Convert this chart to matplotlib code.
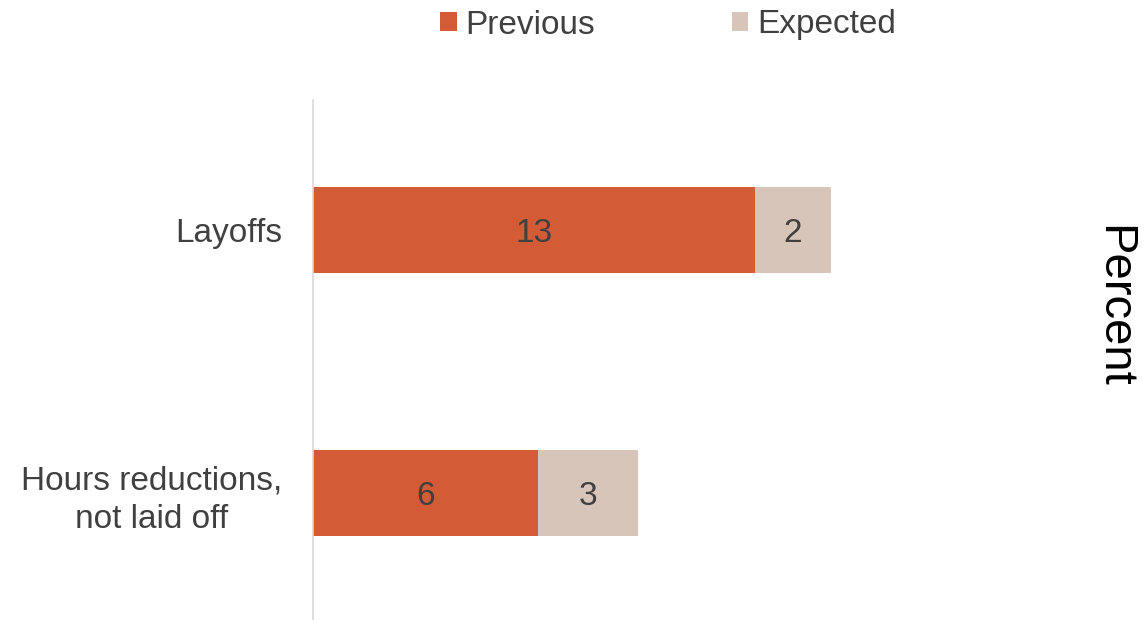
import matplotlib
matplotlib.use("Agg")
import matplotlib.pyplot as plt
import numpy as np

plt.rcParams['font.family'] = ['Liberation Sans', 'DejaVu Sans']

categories = ["Hours reductions,\nnot laid off", "Layoffs"]
previous = [6.4, 12.6]
expected = [2.85, 2.15]
series_names = ["Previous", "Expected"]
colors = ["#D35B35", "#D6C5B8"]
text_color = "#404040"

fig = plt.figure(figsize=(11.47, 6.2), dpi=100)
ax = fig.add_axes([313/1147, 0.0, 702/1147, 1 - 100/620])

y = np.arange(len(categories))
h = 0.33
b1 = ax.barh(y, previous, height=h, color=colors[0], label=series_names[0])
b2 = ax.barh(y, expected, height=h, left=previous, color=colors[1], label=series_names[1])

for bars, vals, lefts in [(b1, previous, [0]*len(previous)), (b2, expected, previous)]:
    for v, l, yy in zip(vals, lefts, y):
        ax.text(l + v/2, yy, f"{v:.0f}", ha='center', va='center_baseline', fontsize=24, color=text_color)

ax.set_xlim(0, 20)
ax.set_ylim(-0.483, 1.494)
ax.set_yticks(y)
ax.set_yticklabels(categories, fontsize=24, color=text_color, multialignment='center',
                   linespacing=1.3)
ax.tick_params(axis='y', length=0, pad=22)
ax.set_xticks([])
for s in ['top', 'right', 'bottom']:
    ax.spines[s].set_visible(False)
ax.spines['left'].set_color('#D9D9D9')
ax.spines['left'].set_linewidth(1.2)

fig.text(1113/1147, 1 - 306/620, "Percent", rotation=270, ha='center', va='center',
         fontsize=34, color='black')

leg = fig.legend(handles=[b1, b2], labels=series_names, loc='center',
                 bbox_to_anchor=(668/1147, 1 - 25/620), ncol=2, frameon=False,
                 fontsize=24, handlelength=0.5, handleheight=0.5, handletextpad=0.25,
                 columnspacing=4.1)
for t in leg.get_texts():
    t.set_color(text_color)

fig.savefig("out.png", dpi=100)
